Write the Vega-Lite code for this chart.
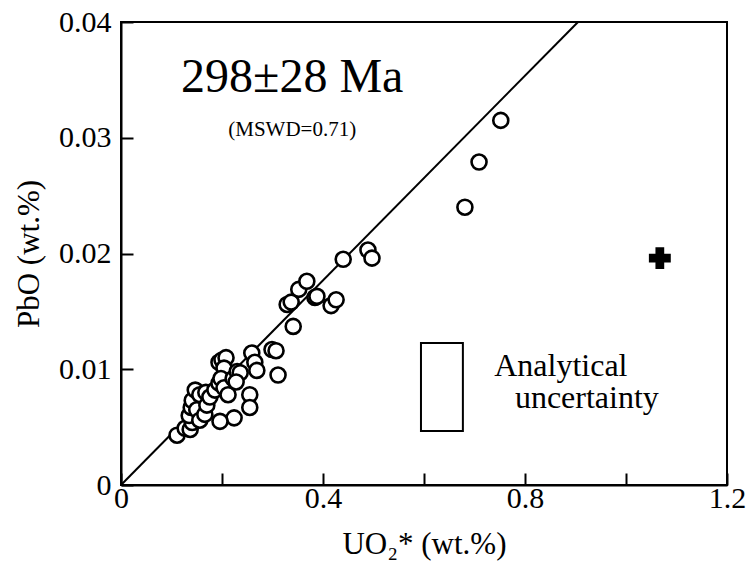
{
  "$schema": "https://vega.github.io/schema/vega-lite/v6.json",
  "autosize": "none",
  "width": 606,
  "height": 463,
  "padding": {"left": 121, "top": 22, "right": 20, "bottom": 82},
  "background": "white",
  "config": {
    "font": "Liberation Serif",
    "view": {"stroke": "black", "strokeWidth": 2},
    "axis": {
      "domainColor": "black", "domainWidth": 2,
      "tickColor": "black", "tickWidth": 2, "tickSize": -12,
      "grid": false, "labelFlush": false,
      "labelFont": "Liberation Serif", "labelFontSize": 30, "labelColor": "black",
      "titleFont": "Liberation Serif", "titleFontSize": 31, "titleFontWeight": "normal", "titleColor": "black"
    }
  },
  "datasets": {
    "pts": [
      {"u": 0.111, "p": 0.0043}, {"u": 0.127, "p": 0.0049}, {"u": 0.137, "p": 0.0048},
      {"u": 0.141, "p": 0.0054}, {"u": 0.135, "p": 0.0060}, {"u": 0.139, "p": 0.0067},
      {"u": 0.141, "p": 0.0073}, {"u": 0.147, "p": 0.0082}, {"u": 0.156, "p": 0.0078},
      {"u": 0.150, "p": 0.0065}, {"u": 0.156, "p": 0.0056}, {"u": 0.166, "p": 0.0061},
      {"u": 0.170, "p": 0.0069}, {"u": 0.168, "p": 0.0080}, {"u": 0.176, "p": 0.0076},
      {"u": 0.186, "p": 0.0082}, {"u": 0.194, "p": 0.0088}, {"u": 0.194, "p": 0.0106},
      {"u": 0.200, "p": 0.0108}, {"u": 0.208, "p": 0.0110}, {"u": 0.204, "p": 0.0101},
      {"u": 0.198, "p": 0.0092}, {"u": 0.204, "p": 0.0084}, {"u": 0.212, "p": 0.0078},
      {"u": 0.222, "p": 0.0092}, {"u": 0.230, "p": 0.0098}, {"u": 0.236, "p": 0.0097},
      {"u": 0.228, "p": 0.0089}, {"u": 0.259, "p": 0.0114}, {"u": 0.265, "p": 0.0106},
      {"u": 0.269, "p": 0.0099}, {"u": 0.255, "p": 0.0078}, {"u": 0.255, "p": 0.0067},
      {"u": 0.224, "p": 0.0058}, {"u": 0.196, "p": 0.0055}, {"u": 0.299, "p": 0.0117},
      {"u": 0.307, "p": 0.0116}, {"u": 0.311, "p": 0.0095}, {"u": 0.341, "p": 0.0137},
      {"u": 0.329, "p": 0.0156}, {"u": 0.337, "p": 0.0158}, {"u": 0.352, "p": 0.0169},
      {"u": 0.368, "p": 0.0176}, {"u": 0.384, "p": 0.0162}, {"u": 0.388, "p": 0.0163},
      {"u": 0.416, "p": 0.0155}, {"u": 0.426, "p": 0.0160}, {"u": 0.440, "p": 0.0195},
      {"u": 0.489, "p": 0.0203}, {"u": 0.497, "p": 0.0196}, {"u": 0.709, "p": 0.0279},
      {"u": 0.681, "p": 0.0240}, {"u": 0.752, "p": 0.0315}
    ]
  },
  "layer": [
    {
      "data": {"values": [{"u": 0, "p": 0, "u2": 0.905, "p2": 0.04}]},
      "mark": {"type": "rule", "color": "black", "strokeWidth": 2},
      "encoding": {
        "x": {"field": "u", "type": "quantitative", "scale": {"domain": [0, 1.2], "nice": false, "zero": false},
          "axis": {"values": [0, 0.2, 0.4, 0.6, 0.8, 1.0, 1.2], "format": "~g",
            "labelExpr": "(datum.value == 0 || abs(datum.value - 0.4) < 1e-6 || abs(datum.value - 0.8) < 1e-6 || abs(datum.value - 1.2) < 1e-6) ? datum.label : ''",
            "labelFont": "Liberation Serif", "labelFlush": false,
            "labelPadding": 10, "title": "UO₂* (wt.%)", "titlePadding": 16}},
        "y": {"field": "p", "type": "quantitative", "scale": {"domain": [0, 0.04], "nice": false, "zero": false},
          "axis": {"values": [0, 0.01, 0.02, 0.03, 0.04], "format": ".2~f", "labelFont": "Liberation Serif", "labelFlush": false,
            "labelPadding": 22, "title": "PbO (wt.%)", "titlePadding": 13}},
        "x2": {"field": "u2"},
        "y2": {"field": "p2"}
      }
    },
    {
      "data": {"name": "pts"},
      "mark": {"type": "point", "shape": "circle", "filled": false, "fill": "white", "fillOpacity": 1, "stroke": "black", "strokeWidth": 2.6, "size": 225, "opacity": 1},
      "encoding": {
        "x": {"field": "u", "type": "quantitative"},
        "y": {"field": "p", "type": "quantitative"}
      }
    },
    {
      "data": {"values": [{"u": 0.594, "p": 0.00467, "u2": 0.677, "p2": 0.01227}]},
      "mark": {"type": "rect", "fill": null, "stroke": "black", "strokeWidth": 2},
      "encoding": {
        "x": {"field": "u", "type": "quantitative"},
        "y": {"field": "p", "type": "quantitative"},
        "x2": {"field": "u2"},
        "y2": {"field": "p2"}
      }
    },
    {
      "data": {"values": [{"u": 1.067, "p": 0.0196}]},
      "mark": {"type": "point", "shape": "cross", "filled": true, "color": "black", "size": 480, "opacity": 1},
      "encoding": {
        "x": {"field": "u", "type": "quantitative"},
        "y": {"field": "p", "type": "quantitative"}
      }
    },
    {
      "data": {"values": [
        {"u": 0.339, "p": 0.0352, "t": "298±28 Ma", "s": 48},
        {"u": 0.339, "p": 0.0307, "t": "(MSWD=0.71)", "s": 21}
      ]},
      "mark": {"type": "text", "font": "Liberation Serif", "color": "black", "baseline": "middle", "align": "center"},
      "encoding": {
        "x": {"field": "u", "type": "quantitative"},
        "y": {"field": "p", "type": "quantitative"},
        "text": {"field": "t"},
        "size": {"field": "s", "type": "quantitative", "scale": null}
      }
    },
    {
      "data": {"values": [
        {"u": 0.739, "p": 0.0103, "t": "Analytical"},
        {"u": 0.780, "p": 0.0075, "t": "uncertainty"}
      ]},
      "mark": {"type": "text", "font": "Liberation Serif", "color": "black", "baseline": "middle", "align": "left", "fontSize": 32},
      "encoding": {
        "x": {"field": "u", "type": "quantitative"},
        "y": {"field": "p", "type": "quantitative"},
        "text": {"field": "t"}
      }
    }
  ]
}
